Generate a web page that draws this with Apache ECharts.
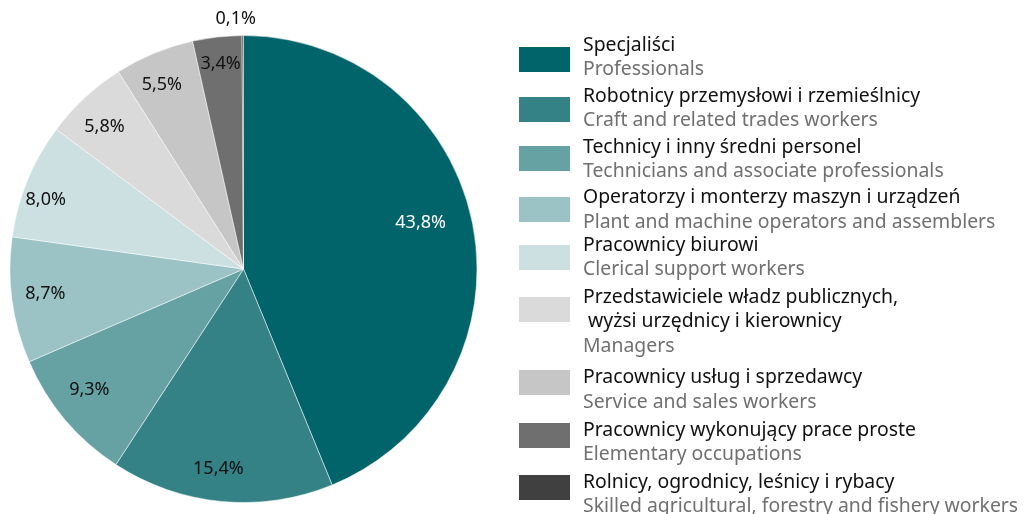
<!DOCTYPE html>
<html>
<head>
<meta charset="utf-8">
<script src="https://cdn.jsdelivr.net/npm/echarts@6/dist/echarts.min.js"></script>
<style>
html,body{margin:0;padding:0;background:#fff;}
#chart{width:1025px;height:514px;}
</style>
</head>
<body>
<div id="chart"></div>
<script>
// ---- data ----
var namesPl = [
  'Specjaliści',
  'Robotnicy przemysłowi i rzemieślnicy',
  'Technicy i inny średni personel',
  'Operatorzy i monterzy maszyn i urządzeń',
  'Pracownicy biurowi',
  'Przedstawiciele władz publicznych,\n wyżsi urzędnicy i kierownicy',
  'Pracownicy usług i sprzedawcy',
  'Pracownicy wykonujący prace proste',
  'Rolnicy, ogrodnicy, leśnicy i rybacy'
];
var namesEn = [
  'Professionals',
  'Craft and related trades workers',
  'Technicians and associate professionals',
  'Plant and machine operators and assemblers',
  'Clerical support workers',
  'Managers',
  'Service and sales workers',
  'Elementary occupations',
  'Skilled agricultural, forestry and fishery workers'
];
var shares = [43.8, 15.4, 9.3, 8.7, 8.0, 5.8, 5.5, 3.4, 0.1];

// ---- styles / layout ----
var colors = ['#00646A', '#358286', '#66A1A4', '#9BC3C5', '#CCE0E1', '#DADADA', '#C6C6C6', '#6F6F6F', '#404040'];
var FONT = 'Noto Sans';
var LEG_FS = 19.4, LEG_LH = 24.5;
var cx = 243.5, cy = 269, R = 233.5;
var legendIconTops = [46, 96, 145, 196, 244, 296, 369, 422, 474];
var legendTextShift = [-1.9, -1.1, 0.9, 0.7, 0.2, 12.2, 7.3, 6.8, 6.9];
// label nudges [dx, dy] in px (layout only)
var labelNudge = [[-22, -7], [-6, -2], [1, -10], [3, -2], [-10, 8], [-1, 7], [-4, 3], [0, -3], [-7, 3]];
var smallOutside = 8; // index of label drawn outside the pie

function fmtPct(v) { return v.toFixed(1).replace('.', ',') + '%'; }
function nudgePadding(n) {
  var dx = n[0], dy = n[1];
  return [dy > 0 ? 2 * dy : 0, dx < 0 ? -2 * dx : 0, dy < 0 ? -2 * dy : 0, dx > 0 ? 2 * dx : 0];
}

var mainData = namesPl.map(function (n, i) {
  return { name: n, value: shares[i], itemStyle: { color: colors[i] } };
});

var innerLabelData = namesPl.map(function (n, i) {
  var d = { name: n, value: shares[i], label: { padding: nudgePadding(labelNudge[i]) } };
  if (i === 0) d.label.color = '#ffffff';
  if (i === smallOutside) d.label.show = false;
  return d;
});
var outerLabelData = namesPl.map(function (n, i) {
  return { name: n, value: shares[i], label: { show: i === smallOutside, padding: nudgePadding(labelNudge[i]) } };
});

var legends = namesPl.map(function (n, i) {
  var lines = n.split('\n').length + 1;
  var s = legendTextShift[i];
  var pt = s > 0 ? 2 * s : 0, pb = s < 0 ? -2 * s : 0;
  var boxH = lines * LEG_LH + pt + pb;
  var off = Math.min(0, 13.5 - boxH / 2);
  return {
    data: [{ name: n, icon: 'rect' }],
    orient: 'vertical',
    left: 517,
    top: legendIconTops[i] + off,
    padding: 0,
    itemWidth: 53,
    itemHeight: 27,
    selectedMode: false,
    formatter: function (name) {
      var idx = namesPl.indexOf(name);
      return '{a|' + name.split('\n').join('}\n{a|') + '}\n{b|' + namesEn[idx] + '}';
    },
    textStyle: {
      fontFamily: FONT,
      fontSize: LEG_FS,
      lineHeight: LEG_LH,
      padding: [pt, 0, pb, 7],
      rich: {
        a: { fontFamily: FONT, fontSize: LEG_FS, lineHeight: LEG_LH, color: '#111111' },
        b: { fontFamily: FONT, fontSize: LEG_FS, lineHeight: LEG_LH, color: '#707070' }
      }
    }
  };
});

var labelStyle = {
  show: true,
  position: 'inside',
  fontFamily: FONT,
  fontSize: 18,
  color: '#111111',
  formatter: function (p) { return '{v|' + fmtPct(p.value) + '}'; },
  rich: { v: { fontFamily: FONT, fontSize: 18, lineHeight: 22 } }
};

var chart = echarts.init(document.getElementById('chart'), null, { renderer: 'canvas' });
chart.setOption({
  animation: false,
  backgroundColor: '#ffffff',
  legend: legends,
  series: [
    {
      type: 'pie',
      center: [cx, cy],
      radius: [0, R],
      startAngle: 90,
      clockwise: true,
      avoidLabelOverlap: false,
      silent: true,
      itemStyle: { borderColor: '#ffffff', borderWidth: 0.5 },
      label: { show: false },
      labelLine: { show: false },
      data: mainData
    },
    {
      type: 'pie',
      center: [cx, cy],
      radius: [R - 67, R],
      startAngle: 90,
      clockwise: true,
      avoidLabelOverlap: false,
      silent: true,
      itemStyle: { color: 'rgba(0,0,0,0)' },
      label: labelStyle,
      labelLine: { show: false },
      data: innerLabelData
    },
    {
      type: 'pie',
      center: [cx, cy],
      radius: [R, R + 34],
      startAngle: 90,
      clockwise: true,
      avoidLabelOverlap: false,
      silent: true,
      itemStyle: { color: 'rgba(0,0,0,0)' },
      label: labelStyle,
      labelLine: { show: false },
      data: outerLabelData
    }
  ]
});
</script>
</body>
</html>
